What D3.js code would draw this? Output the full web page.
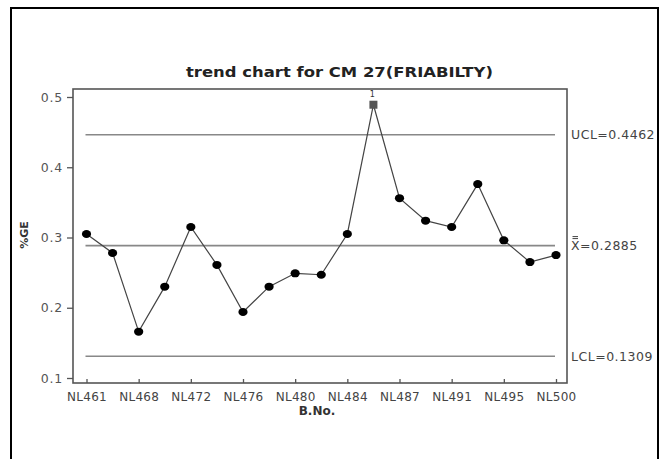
<!DOCTYPE html>
<html><head><meta charset="utf-8">
<script src="https://cdn.jsdelivr.net/npm/d3@7"></script>
<style>body{margin:0;background:#fff}svg{display:block}text{font-family:"DejaVu Sans",Verdana,sans-serif}</style>
</head><body>
<svg id="c" width="661" height="459"></svg>
<script>
const batches = ["NL461","NL464","NL468","NL470","NL472","NL474","NL476","NL478","NL480","NL482","NL484","NL486","NL487","NL489","NL491","NL493","NL495","NL497","NL500"];
const values  = [0.305,0.278,0.166,0.230,0.315,0.261,0.194,0.230,0.249,0.247,0.305,0.489,0.356,0.324,0.315,0.376,0.296,0.265,0.275];
const tickLabels = ["NL461","NL468","NL472","NL476","NL480","NL484","NL487","NL491","NL495","NL500"];
const yTicks = [0.1,0.2,0.3,0.4,0.5];
const limitNames = ["UCL","Xbar","LCL"];
const limitValues = [0.4462,0.2885,0.1309];
const limitText = ["UCL=0.4462","X=0.2885","LCL=0.1309"];
const outOfControl = [11];

const svg = d3.select("#c");
const frame = {l:73,r:567,t:89,b:383};
const x = d3.scalePoint().domain(batches).range([86.5,556]);
const y = d3.scaleLinear().domain([0.1,0.5]).range([378,97]);

// outer border
svg.append("path").attr("d","M11,470 L11,8 L658,8 L658,470").attr("fill","none").attr("stroke","#000").attr("stroke-width",2);

// title
svg.append("text").attr("x",339.5).attr("y",77).attr("text-anchor","middle")
  .attr("font-size",14.5).attr("font-weight","bold").attr("fill","#222")
  .attr("textLength",307).attr("lengthAdjust","spacingAndGlyphs")
  .text("trend chart for CM 27(FRIABILTY)");

// frame
svg.append("rect").attr("x",frame.l).attr("y",frame.t).attr("width",frame.r-frame.l).attr("height",frame.b-frame.t)
  .attr("fill","none").attr("stroke","#555").attr("stroke-width",1.6);

// y axis
const ya = svg.append("g").attr("transform",`translate(${frame.l},0)`)
  .call(d3.axisLeft(y).tickValues(yTicks).tickFormat(d3.format(".1f")).tickSize(6).tickPadding(4));
ya.select(".domain").remove();
ya.selectAll("line").attr("stroke","#555").attr("stroke-width",1.3);
ya.selectAll("text").attr("font-size",12.5).attr("fill","#555").attr("font-family","DejaVu Sans, sans-serif").attr("letter-spacing",0.8);

// x axis
const xa = svg.append("g").attr("transform",`translate(0,${frame.b})`)
  .call(d3.axisBottom(x).tickValues(tickLabels).tickSize(-4).tickPadding(9));
xa.select(".domain").remove();
xa.selectAll("line").attr("stroke","#555").attr("stroke-width",1.3);
xa.selectAll("text").attr("font-size",12).attr("fill","#444").attr("font-family","DejaVu Sans, sans-serif").attr("letter-spacing",0.3);

// axis titles
svg.append("text").attr("x",317).attr("y",415).attr("text-anchor","middle").attr("font-size",12).attr("font-weight","bold").attr("fill","#333").text("B.No.");
svg.append("text").attr("transform","translate(28,235) rotate(-90)").attr("text-anchor","middle").attr("font-size",11).attr("font-weight","bold").attr("fill","#333").text("%GE");

// control lines
const x0 = x(batches[0]), x1 = x(batches[batches.length-1]);
svg.selectAll(".lim").data(limitValues).enter().append("line")
  .attr("x1",x0-1).attr("x2",x1-1).attr("y1",d=>y(d)).attr("y2",d=>y(d))
  .attr("stroke","#888").attr("stroke-width",1.6);
svg.selectAll(".limt").data(limitValues).enter().append("text")
  .attr("x",571).attr("y",d=>y(d)+4.5).attr("font-size",12.5).attr("fill","#444").attr("letter-spacing",0.5)
  .text((d,i)=>limitText[i]);
// double bar over X
const xb = y(limitValues[1]);
svg.append("line").attr("x1",572.5).attr("x2",578).attr("y1",xb-9).attr("y2",xb-9).attr("stroke","#444").attr("stroke-width",1);
svg.append("line").attr("x1",572.5).attr("x2",578).attr("y1",xb-7).attr("y2",xb-7).attr("stroke","#444").attr("stroke-width",1);

// data line
svg.append("path").datum(values)
  .attr("d",d3.line().x((d,i)=>x(batches[i])).y(d=>y(d)))
  .attr("fill","none").attr("stroke","#444").attr("stroke-width",1.2);

// points
values.forEach((v,i)=>{
  if(outOfControl.includes(i)){
    svg.append("rect").attr("x",x(batches[i])-4).attr("y",y(v)-4).attr("width",8).attr("height",8).attr("fill","#555");
    svg.append("text").attr("x",x(batches[i])-1).attr("y",y(v)-8).attr("text-anchor","middle").attr("font-size",8).attr("fill","#333").text("1");
  } else {
    svg.append("ellipse").attr("cx",x(batches[i])).attr("cy",y(v)).attr("rx",4.6).attr("ry",4).attr("fill","#000");
  }
});
</script>
</body></html>
